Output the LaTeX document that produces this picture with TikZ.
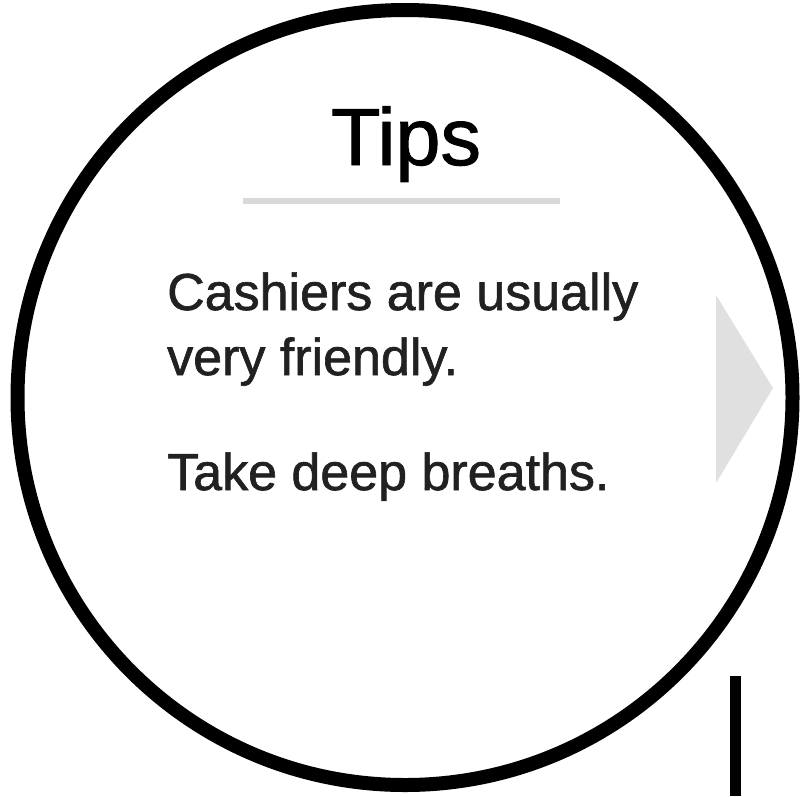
\documentclass[tikz,border=0pt]{standalone}
\usepackage{fontspec}
\setmainfont{Liberation Sans}
\newfontfamily\tipfont[FakeBold=1.2]{Liberation Sans}
\usetikzlibrary{positioning}
\usepackage{xcolor}
\definecolor{tipText}{HTML}{212121}
\definecolor{tipGray}{HTML}{E0E0E0}
\definecolor{tipRule}{HTML}{D9D9D9}
\tikzstyle{tipline} = [%
  anchor=base west,
  inner sep=0pt,
  text=tipText,
  font=\tipfont\fontsize{52}{62}\selectfont
]

\begin{document}
\begin{tikzpicture}[%
  x=1pt, y=-1pt,
  dial/.style={%
    circle,
    draw=black,
    line width=14pt,
    minimum size=775pt,
    inner sep=0pt
  }
]
  \useasboundingbox (0,0) rectangle (802,796);

  % Face
  \node[dial] (face) at (405,397.5) {};

  % Title and rule
  \node[anchor=base,inner sep=0pt,font=\tipfont\fontsize{81}{90}\selectfont] (title) at (406,165) {Tips};
  \coordinate (ruleL) at (243,201);
  \coordinate (ruleR) at (560,201);
  \draw[tipRule,line width=6pt] (ruleL) -- (ruleR);

  % Tips
  \node[tipline] (tipA) at (167,310) {Cashiers are usually};
  \node[tipline,below=65pt of tipA.base west,anchor=base west] (tipB) {very friendly.};
  \node[tipline,below=115pt of tipB.base west,anchor=base west] (tipC) {Take deep breaths.};

  % Next arrow
  \coordinate (nextT) at (716,295);
  \coordinate (nextB) at (716,483);
  \coordinate (nextP) at (773,388);
  \fill[tipGray] (nextT) -- (nextP) -- (nextB) -- cycle;

  % Scroll bar
  \coordinate (barTop) at (735.5,676);
  \coordinate (barBot) at (735.5,796);
  \draw[black,line width=11pt] (barTop) -- (barBot);
\end{tikzpicture}
\end{document}
